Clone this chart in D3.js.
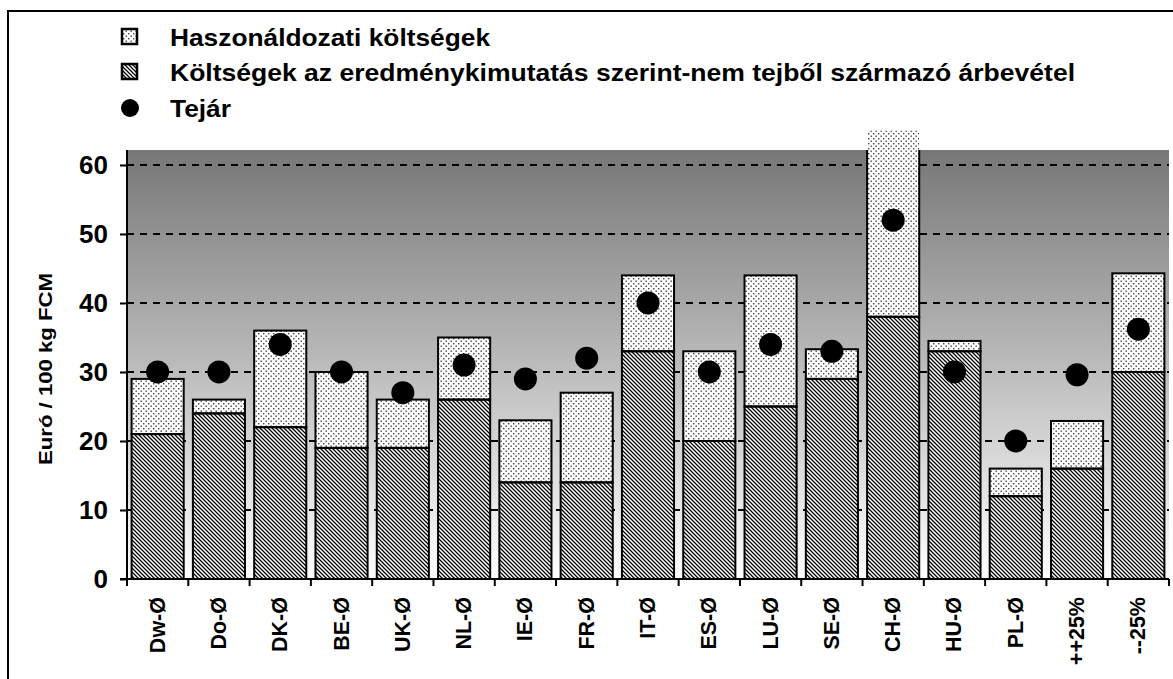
<!DOCTYPE html>
<html><head><meta charset="utf-8">
<script src="https://cdn.jsdelivr.net/npm/d3@7"></script>
<style>
html,body{margin:0;padding:0;background:#fff;}
svg{display:block;font-family:"Liberation Sans",Arial,sans-serif;}
</style></head>
<body>
<script>
const categories = ["Dw-Ø","Do-Ø","DK-Ø","BE-Ø","UK-Ø","NL-Ø","IE-Ø","FR-Ø","IT-Ø","ES-Ø","LU-Ø","SE-Ø","CH-Ø","HU-Ø","PL-Ø","++25%","--25%"];
const costs = [21,24,22,19,19,26,14,14,33,20,25,29,38,33,12,16,30];
const opportunity = [8,2,14,11,7,9,9,13,11,13,19,4.3,27,1.5,4,6.9,14.3];
const milkPrice = [30,30,34,30,27,31,29,32,40,30,34,33,52,30,20,29.6,36.2];
const yTicks = [0,10,20,30,40,50,60];
const legendLabels = ["Haszonáldozati költségek","Költségek az eredménykimutatás szerint-nem tejből származó árbevétel","Tejár"];
const yTitle = "Euró / 100 kg FCM";

const W = 1173, H = 679;
const m = {left:127, right:1169, top:150, bottom:579};
const svg = d3.select("body").append("svg").attr("width",W).attr("height",H);
const defs = svg.append("defs");

const grad = defs.append("linearGradient").attr("id","bg").attr("x1",0).attr("y1",0).attr("x2",0).attr("y2",1);
grad.append("stop").attr("offset","0%").attr("stop-color","#777777");
grad.append("stop").attr("offset","100%").attr("stop-color","#ffffff");

const stip = defs.append("pattern").attr("id","stipple").attr("patternUnits","userSpaceOnUse").attr("width",5).attr("height",5);
stip.append("rect").attr("width",5).attr("height",5).attr("fill","#fff");
stip.append("rect").attr("x",0.5).attr("y",0.5).attr("width",1.4).attr("height",1.4).attr("fill","#444");
stip.append("rect").attr("x",3).attr("y",3).attr("width",1.4).attr("height",1.4).attr("fill","#444");

const hatch = defs.append("pattern").attr("id","hatch").attr("patternUnits","userSpaceOnUse").attr("width",4).attr("height",4);
hatch.append("rect").attr("width",4).attr("height",4).attr("fill","#fff");
hatch.append("path").attr("d","M0,0L4,4M-1,3L1,5M3,-1L5,1").attr("stroke","#000").attr("stroke-width",1.25);

defs.append("clipPath").attr("id","plotclip").append("rect")
  .attr("x",m.left-5).attr("y",m.top).attr("width",m.right-m.left+10).attr("height",m.bottom-m.top+5);

// outer frame
svg.append("rect").attr("x",8).attr("y",11).attr("width",1300).attr("height",900)
  .attr("fill","none").attr("stroke","#000").attr("stroke-width",2);

const x = d3.scaleBand().domain(categories).range([m.left,m.right]).paddingInner(0.15).paddingOuter(0.075);
const y = d3.scaleLinear().domain([0,62.17]).range([m.bottom,m.top]);

svg.append("rect").attr("x",m.left).attr("y",m.top).attr("width",m.right-m.left).attr("height",m.bottom-m.top).attr("fill","url(#bg)");

// gridlines
svg.append("g").selectAll("line").data(yTicks.filter(d=>d>0)).join("line")
  .attr("x1",m.left).attr("x2",m.right).attr("y1",d=>y(d)).attr("y2",d=>y(d))
  .attr("stroke","#000").attr("stroke-width",2).attr("stroke-dasharray","7,6");

const data = categories.map((c,i)=>({c, cost:costs[i], opp:opportunity[i], price:milkPrice[i]}));

// fills
const fills = svg.append("g");
fills.selectAll(".s").data(data).join("rect")
  .attr("x",d=>x(d.c)).attr("width",x.bandwidth())
  .attr("y",d=>y(d.cost+d.opp)).attr("height",d=>y(d.cost)-y(d.cost+d.opp))
  .attr("fill","url(#stipple)");
fills.selectAll(".h").data(data).join("rect")
  .attr("x",d=>x(d.c)).attr("width",x.bandwidth())
  .attr("y",d=>y(d.cost)).attr("height",d=>y(0)-y(d.cost))
  .attr("fill","url(#hatch)");
// strokes clipped
const strokes = svg.append("g").attr("clip-path","url(#plotclip)");
strokes.selectAll(".s").data(data).join("rect")
  .attr("x",d=>x(d.c)).attr("width",x.bandwidth())
  .attr("y",d=>y(d.cost+d.opp)).attr("height",d=>y(d.cost)-y(d.cost+d.opp))
  .attr("fill","none").attr("stroke","#000").attr("stroke-width",2);
strokes.selectAll(".h").data(data).join("rect")
  .attr("x",d=>x(d.c)).attr("width",x.bandwidth())
  .attr("y",d=>y(d.cost)).attr("height",d=>y(0)-y(d.cost))
  .attr("fill","none").attr("stroke","#000").attr("stroke-width",2);

// dots
svg.append("g").selectAll("circle").data(data).join("circle")
  .attr("cx",d=>x(d.c)+x.bandwidth()/2).attr("cy",d=>y(d.price)).attr("r",11.5).attr("fill","#000");

// y axis
const ya = svg.append("g").attr("transform",`translate(${m.left},0)`)
  .call(d3.axisLeft(y).tickValues(yTicks).tickSize(7).tickPadding(12).tickFormat(d3.format("d")));
ya.select(".domain").attr("stroke-width",2).attr("d",`M0,${m.top}V${m.bottom}`);
ya.selectAll(".tick line").attr("stroke-width",2);
ya.selectAll(".tick text").attr("font-size",26).attr("font-weight","bold").attr("fill","#000").attr("font-family","Liberation Sans, Arial, sans-serif");

// x axis
const xa = svg.append("g").attr("transform",`translate(0,${m.bottom})`)
  .call(d3.axisBottom(x).tickSize(0).tickFormat(d=>d));
xa.select(".domain").attr("stroke-width",2).attr("d",`M${m.left-7},0H${m.right}`);
xa.selectAll(".tick text").attr("font-size",21.5).attr("font-weight","bold").attr("fill","#000")
  .attr("font-family","Liberation Sans, Arial, sans-serif")
  .attr("text-anchor","end").attr("dy",null).attr("dominant-baseline","central")
  .attr("transform","translate(0,18) rotate(-90)").attr("y",0).attr("x",0);
const bounds = categories.map(c=>x(c)-x.step()*x.paddingInner()/2);
bounds.push(m.right);
xa.append("g").selectAll("line").data(bounds).join("line")
  .attr("x1",d=>d).attr("x2",d=>d).attr("y1",0).attr("y2",7).attr("stroke","#000").attr("stroke-width",2);

// y title
svg.append("text").attr("transform","translate(45,369) rotate(-90)")
  .attr("text-anchor","middle").attr("dominant-baseline","central")
  .attr("font-size",19).attr("font-weight","bold")
  .attr("textLength",192).attr("lengthAdjust","spacingAndGlyphs").text(yTitle);

// legend
const lg = svg.append("g");
const rows = [37,72,108];
const legendWidths = [320,905,61];
lg.append("rect").attr("x",122).attr("y",rows[0]-8).attr("width",15).attr("height",15).attr("fill","url(#stipple)").attr("stroke","#000").attr("stroke-width",2.5);
lg.append("rect").attr("x",122).attr("y",rows[1]-8).attr("width",15).attr("height",15).attr("fill","url(#hatch)").attr("stroke","#000").attr("stroke-width",2.5);
lg.append("circle").attr("cx",130).attr("cy",rows[2]).attr("r",9).attr("fill","#000");
lg.selectAll("text").data(legendLabels).join("text")
  .attr("x",170).attr("y",(d,i)=>rows[i]).attr("dominant-baseline","central")
  .attr("font-size",24).attr("font-weight","bold")
  .attr("textLength",(d,i)=>legendWidths[i]).attr("lengthAdjust","spacingAndGlyphs")
  .text(d=>d);
</script>
</body></html>
